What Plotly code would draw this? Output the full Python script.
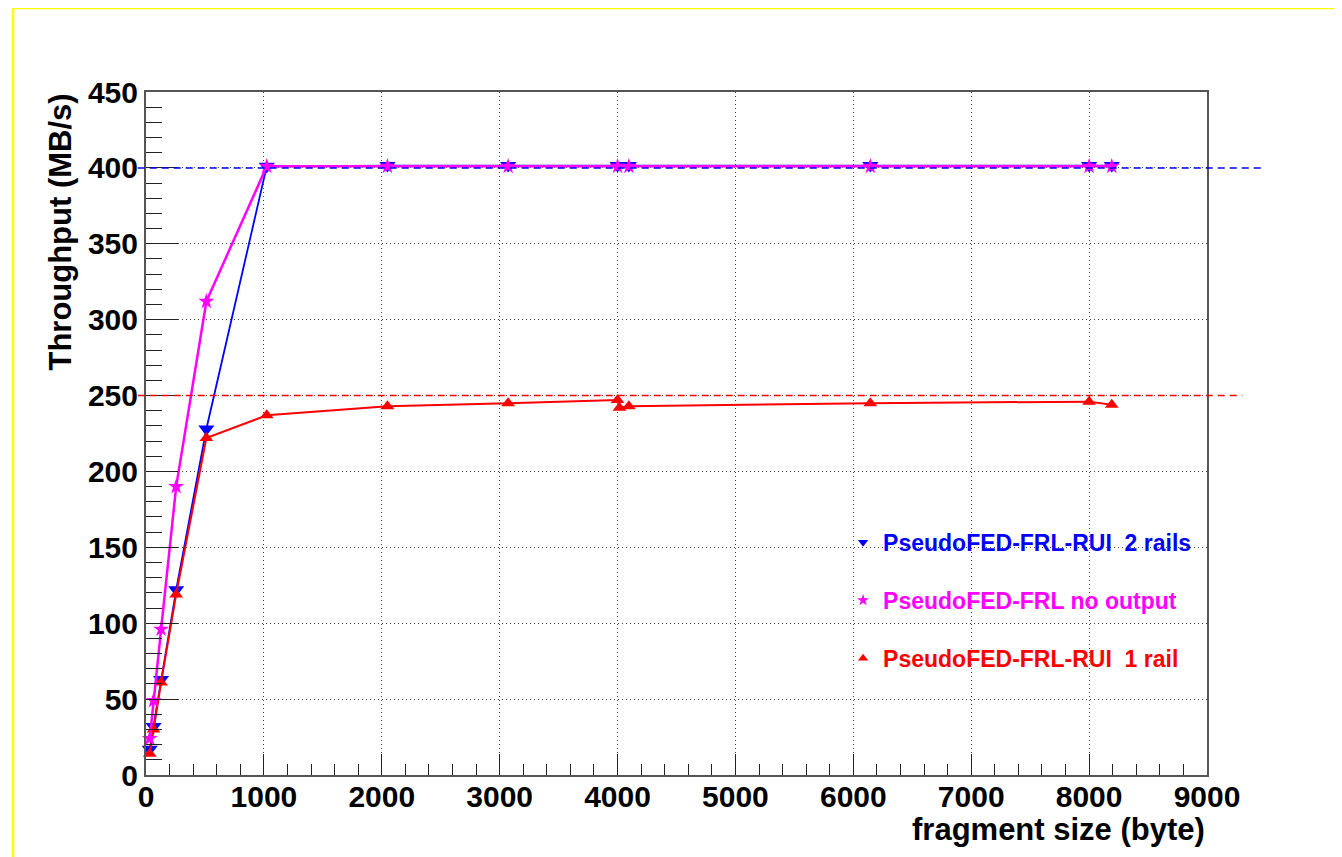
import plotly.graph_objects as go

# ---- data ----
x_2rails = [32, 64, 128, 256, 512, 1024, 2048, 3072, 4000, 4096, 6144, 8000, 8192]
y_2rails = [17, 32, 63, 122, 228, 401, 401.5, 401.5, 401.5, 401.5, 401.5, 401.5, 401.5]

x_noout = [32, 64, 128, 256, 512, 1024, 2048, 3072, 4000, 4096, 6144, 8000, 8192]
y_noout = [24, 49, 96, 190, 312, 401, 401, 401, 401, 401, 401, 401, 401]

x_1rail = [32, 64, 128, 256, 512, 1024, 2048, 3072, 4000, 4016, 4096, 6144, 8000, 8192]
y_1rail = [14, 30, 61, 119, 222, 237, 243, 245, 247, 242, 243, 245, 246, 244]

names = ["PseudoFED-FRL-RUI\u00a0 2 rails", "PseudoFED-FRL no output", "PseudoFED-FRL-RUI\u00a0 1 rail"]
colors = ["#0000ff", "#ff00ff", "#ff0000"]
symbols = ["triangle-down", "star", "triangle-up"]

# reference limit lines: (value, x start, x end)
limit_2rails = (400, -70, 9480)
limit_1rail = (250, -70, 9300)

x_range = [0, 9000]
y_range = [0, 450]
x_title = "fragment size (byte)"
y_title = "Throughput (MB/s)"

FONT = "Liberation Sans, Arial, sans-serif"

fig = go.Figure()

series = [
    (x_2rails, y_2rails, 0, 14, 1.8),
    (x_1rail, y_1rail, 2, 12, 2),
    (x_noout, y_noout, 1, 12, 2.5),
]
for xs, ys, i, msize, lw in series:
    fig.add_trace(go.Scatter(
        x=xs, y=ys, mode="lines+markers",
        line=dict(color=colors[i], width=lw),
        marker=dict(symbol=symbols[i], size=msize, color=colors[i]),
        showlegend=False, cliponaxis=False, hoverinfo="x+y",
    ))

# legend entries (marker only)
for i in range(3):
    fig.add_trace(go.Scatter(
        x=[None], y=[None], mode="markers",
        marker=dict(symbol=symbols[i], size=9, color=colors[i]),
        name='<span style="color:%s">%s</span>' % (colors[i], names[i]),
        legendgroup="g%d" % i, showlegend=True,
    ))


def xp(v):
    return (v - x_range[0]) / (x_range[1] - x_range[0])


def yp(v):
    return (v - y_range[0]) / (y_range[1] - y_range[0])


shapes = []
for (val, xs0, xs1), col in [(limit_2rails, colors[0]), (limit_1rail, colors[2])]:
    shapes.append(dict(type="line", xref="paper", yref="paper",
                       x0=xp(xs0), x1=xp(xs1), y0=yp(val), y1=yp(val),
                       line=dict(color=col, width=1.5, dash="7px,5px"), layer="above"))

# yellow canvas border
shapes.append(dict(type="rect", xref="paper", yref="paper",
                   x0=-0.1254, x1=1.1235, y0=-0.3, y1=1.123,
                   line=dict(color="#ffff00", width=2.5), fillcolor="rgba(0,0,0,0)"))

axis_common = dict(
    showline=True, mirror=True, linecolor="#555555", linewidth=2,
    ticks="inside", tickcolor="#222222", tickwidth=1,
    showgrid=True, gridcolor="#444444", griddash="1px,3px", gridwidth=1,
    zeroline=False,
    tickfont=dict(family=FONT, size=30, color="black", weight="bold"),
)

fig.update_xaxes(range=x_range, tick0=0, dtick=1000, ticklen=21,
                 ticklabelstandoff=-6,
                 minor=dict(ticks="inside", dtick=200, tick0=0, ticklen=11,
                            tickcolor="#222222", tickwidth=1, showgrid=False),
                 **axis_common)
fig.update_yaxes(range=y_range, tick0=0, dtick=50, ticklen=32,
                 minor=dict(ticks="inside", dtick=10, tick0=0, ticklen=16,
                            tickcolor="#222222", tickwidth=1, showgrid=False),
                 **axis_common)

fig.update_layout(
    width=1342, height=857,
    margin=dict(l=138, r=143, t=84, b=90),
    paper_bgcolor="white", plot_bgcolor="white",
    shapes=shapes,
    legend=dict(x=0.657, y=0.372, xanchor="left", yanchor="top",
                bgcolor="rgba(0,0,0,0)", tracegroupgap=25,
                font=dict(family=FONT, size=23, weight="bold"),
                itemwidth=30),
    annotations=[
        dict(text=y_title, xref="paper", yref="paper", x=-0.081, y=1.0,
             xanchor="center", yanchor="top", textangle=-90, showarrow=False,
             font=dict(family=FONT, size=31, color="black", weight="bold")),
        dict(text=x_title, xref="paper", yref="paper", x=1.0, y=-0.0805,
             xanchor="right", yanchor="middle", showarrow=False,
             font=dict(family=FONT, size=31, color="black", weight="bold")),
    ],
)

fig.write_html("out.html")
